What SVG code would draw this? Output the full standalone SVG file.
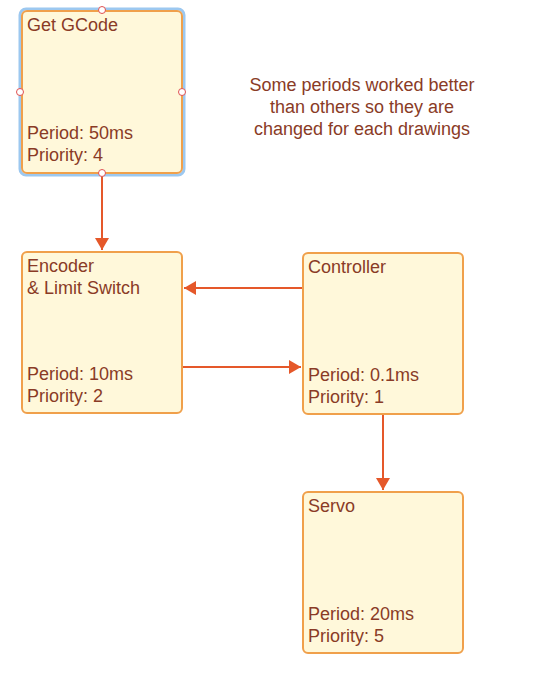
<svg xmlns="http://www.w3.org/2000/svg" width="540" height="677" viewBox="0 0 540 677">
<style>
.box{fill:#fff8da;stroke:#f0a04b;stroke-width:2}
.t{font-family:"Liberation Sans",Arial,sans-serif;font-size:18px;fill:#8a3b26}
.c{fill:none;stroke:#e5582a;stroke-width:2}
.h{fill:#fff;stroke:#e05050;stroke-width:1}
</style>
<defs>
<marker id="a" viewBox="0 0 12 14" refX="12" refY="7" markerWidth="12" markerHeight="14" markerUnits="userSpaceOnUse" orient="auto">
<path d="M0,0 L12,7 L0,14 Z" fill="#e5582a"/>
</marker>
</defs>
<rect width="540" height="677" fill="#fff"/>
<g id="connectors">
<line class="c" x1="102" y1="174" x2="102" y2="250" marker-end="url(#a)"/>
<line class="c" x1="302" y1="288" x2="184" y2="288" marker-end="url(#a)"/>
<line class="c" x1="183" y1="367" x2="301" y2="367" marker-end="url(#a)"/>
<line class="c" x1="383" y1="415" x2="383" y2="490" marker-end="url(#a)"/>
</g>
<g id="getgcode">
<rect x="20" y="9" width="164" height="166" rx="6" fill="none" stroke="#9cc8f0" stroke-width="3"/>
<rect class="box" x="22" y="11" width="160" height="162" rx="5"/>
<text class="t" x="27" y="31">Get GCode</text>
<text class="t" x="27" y="139">Period: 50ms</text>
<text class="t" x="27" y="161">Priority: 4</text>
<circle class="h" cx="102" cy="10" r="3.5"/>
<circle class="h" cx="20" cy="92" r="3.5"/>
<circle class="h" cx="182" cy="92" r="3.5"/>
<circle class="h" cx="102" cy="173" r="3.5"/>
</g>
<g id="encoder">
<rect class="box" x="22" y="252" width="160" height="161" rx="5"/>
<text class="t" x="27" y="272">Encoder</text>
<text class="t" x="27" y="294">&amp; Limit Switch</text>
<text class="t" x="27" y="380">Period: 10ms</text>
<text class="t" x="27" y="402">Priority: 2</text>
</g>
<g id="controller">
<rect class="box" x="303" y="253" width="160" height="161" rx="5"/>
<text class="t" x="308" y="273">Controller</text>
<text class="t" x="308" y="381">Period: 0.1ms</text>
<text class="t" x="308" y="403">Priority: 1</text>
</g>
<g id="servo">
<rect class="box" x="303" y="492" width="160" height="161" rx="5"/>
<text class="t" x="308" y="512">Servo</text>
<text class="t" x="308" y="620">Period: 20ms</text>
<text class="t" x="308" y="642">Priority: 5</text>
</g>
<g id="note">
<text class="t" text-anchor="middle" x="362" y="91">Some periods worked better</text>
<text class="t" text-anchor="middle" x="362" y="113">than others so they are</text>
<text class="t" text-anchor="middle" x="362" y="135">changed for each drawings</text>
</g>
</svg>
